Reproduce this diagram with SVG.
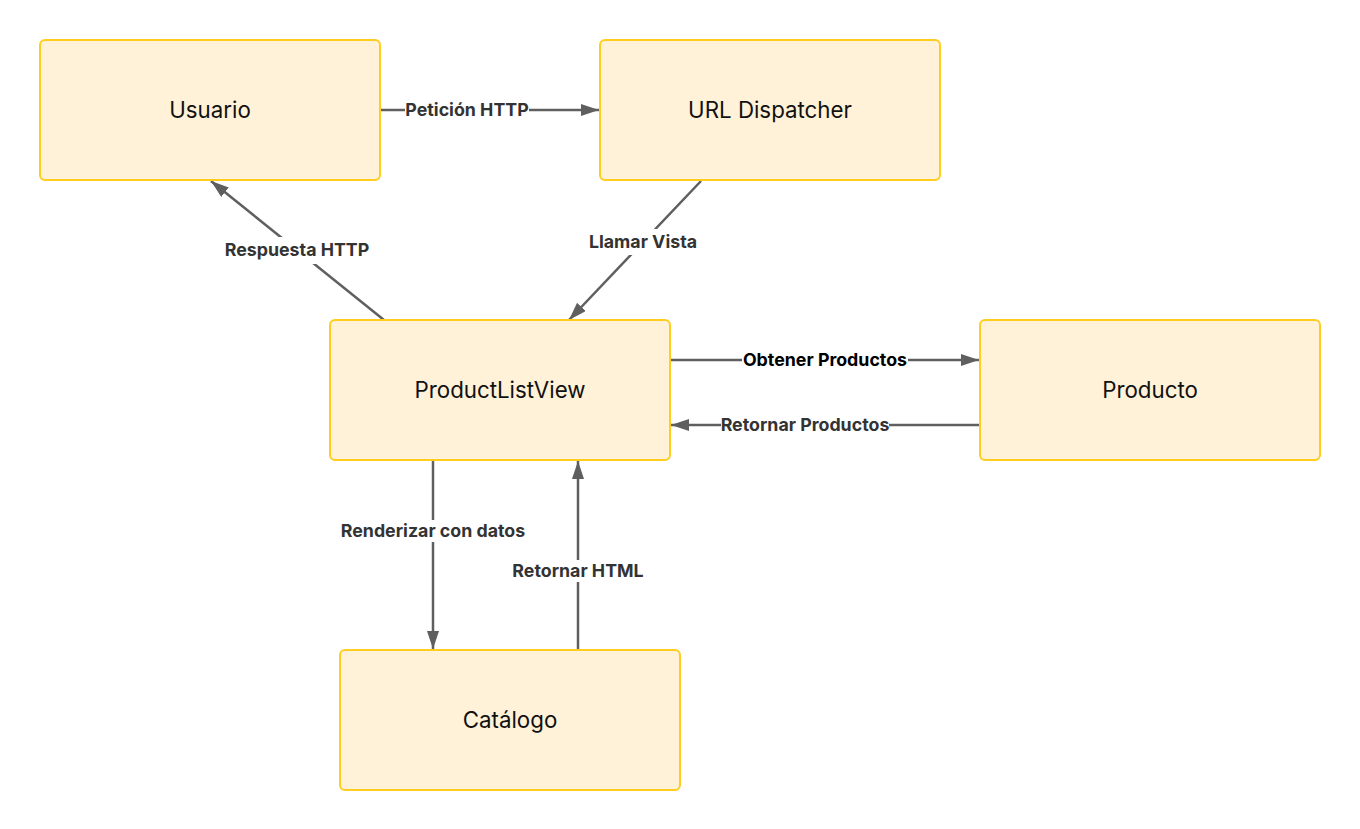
<svg xmlns="http://www.w3.org/2000/svg" width="1360" height="829" viewBox="0 0 1360 829">
<style>
.node rect{fill:#fff2d9;stroke:#fecd1d;stroke-width:2}
.node text{font-family:Inter,"Liberation Sans",sans-serif;font-size:22.3px;fill:#111;text-anchor:middle;dominant-baseline:central}
.edge line{stroke:#5f5f5f;stroke-width:2.5}
.lbl{font-family:Inter,"Liberation Sans",sans-serif;font-size:17.8px;font-weight:bold;fill:#333;text-anchor:middle;dominant-baseline:central}
.bg{fill:#fff}
</style>
<defs>
<marker id="ah" viewBox="0 0 18 12" refX="18" refY="6" markerWidth="18" markerHeight="12" markerUnits="userSpaceOnUse" orient="auto">
<path d="M0,0 L18,6 L0,12 Z" fill="#5f5f5f"/>
</marker>
</defs>
<rect width="1360" height="829" fill="#fff"/>
<g id="connectors">
<g class="edge"><line x1="381" y1="110" x2="599" y2="110" marker-end="url(#ah)"/><rect class="bg" x="405" y="99" width="124" height="22"/><text class="lbl" x="467" y="109">Petición HTTP</text></g>
<g class="edge"><line x1="384" y1="320" x2="211" y2="181" marker-end="url(#ah)"/><rect class="bg" x="223" y="237" width="148" height="27"/><text class="lbl" x="297" y="249">Respuesta HTTP</text></g>
<g class="edge"><line x1="701" y1="181" x2="569" y2="320" marker-end="url(#ah)"/><rect class="bg" x="587" y="229" width="112" height="26"/><text class="lbl" x="643" y="241">Llamar Vista</text></g>
<g class="edge"><line x1="671" y1="360" x2="979" y2="360" marker-end="url(#ah)"/><rect class="bg" x="742" y="349" width="166" height="22"/><text class="lbl" x="825" y="359" style="fill:#000">Obtener Productos</text></g>
<g class="edge"><line x1="979" y1="425" x2="671" y2="425" marker-end="url(#ah)"/><rect class="bg" x="721" y="414" width="168" height="22"/><text class="lbl" x="805" y="424">Retornar Productos</text></g>
<g class="edge"><line x1="433" y1="461" x2="433" y2="649" marker-end="url(#ah)"/><rect class="bg" x="340" y="520" width="186" height="22"/><text class="lbl" x="433" y="530">Renderizar con datos</text></g>
<g class="edge"><line x1="578" y1="649" x2="578" y2="461" marker-end="url(#ah)"/><rect class="bg" x="512" y="560" width="134" height="22"/><text class="lbl" x="578" y="570">Retornar HTML</text></g>
</g>
<g id="usuario" class="node"><rect x="40" y="40" width="340" height="140" rx="5"/><text x="210" y="109">Usuario</text></g>
<g id="url-dispatcher" class="node"><rect x="600" y="40" width="340" height="140" rx="5"/><text x="770" y="109">URL Dispatcher</text></g>
<g id="productlistview" class="node"><rect x="330" y="320" width="340" height="140" rx="5"/><text x="500" y="389">ProductListView</text></g>
<g id="producto" class="node"><rect x="980" y="320" width="340" height="140" rx="5"/><text x="1150" y="389">Producto</text></g>
<g id="catalogo" class="node"><rect x="340" y="650" width="340" height="140" rx="5"/><text x="510" y="719">Catálogo</text></g>
</svg>
